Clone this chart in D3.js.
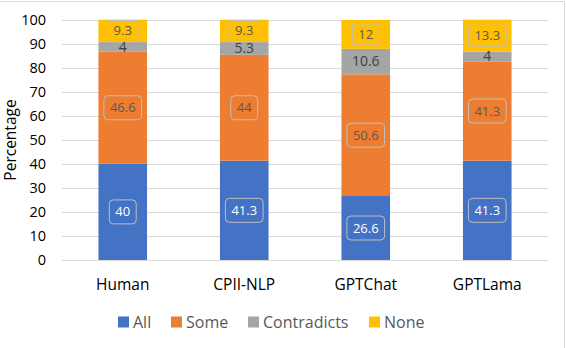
<!DOCTYPE html>
<html>
<head>
<meta charset="utf-8">
<script src="https://cdn.jsdelivr.net/npm/d3@7"></script>
<style>
  body { margin: 0; background: #fff; }
  svg { font-family: "Open Sans", "Liberation Sans", sans-serif; }
</style>
</head>
<body>
<svg id="chart" width="566" height="348"></svg>
<script>
let models = ["Human", "CPII-NLP", "GPTChat", "GPTLama"];
let seriesNames = ["All", "Some", "Contradicts", "None"];
let allValues = [40, 41.3, 26.6, 41.3];
let someValues = [46.6, 44, 50.6, 41.3];
let contradictsValues = [4, 5.3, 10.6, 4];
let noneValues = [9.3, 9.3, 12, 13.3];
let yTicks = [0, 10, 20, 30, 40, 50, 60, 70, 80, 90, 100];

let colors = ["#4472c4", "#ed7d31", "#a5a5a5", "#ffc000"];

// build rows for the stack
let rows = models.map((m, i) => ({
  model: m,
  All: allValues[i],
  Some: someValues[i],
  Contradicts: contradictsValues[i],
  None: noneValues[i]
}));

let svg = d3.select("#chart");

// frame
svg.append("path").
attr("d", "M0,1.5H564.5V348").
attr("fill", "none").
attr("stroke", "#d9d9d9");

let x = d3.scaleBand().
domain(models).
range([62, 548]).
paddingInner(0.6).
paddingOuter(0.3);

let y = d3.scaleLinear().
domain([0, 100]).
range([260, 19.5]);

let cScale = d3.scaleOrdinal().domain(seriesNames).range(colors);

// gridlines
svg.append("g").
selectAll("line").
data(yTicks).
enter().
append("line").
attr("x1", 62).
attr("x2", 548).
attr("y1", d => Math.round(y(d)) + 0.5).
attr("y2", d => Math.round(y(d)) + 0.5).
attr("stroke", "#d9d9d9").
attr("stroke-width", 1);

// y axis labels
let yAxis = d3.axisLeft(y).tickValues(yTicks).tickSize(0).tickPadding(0);
svg.append("g").
attr("transform", "translate(46,0)").
call(yAxis).
call(g => g.select(".domain").remove()).
call(g => g.selectAll("text").
  attr("font-size", 14.5).
  attr("font-family", "Open Sans, sans-serif").
  attr("fill", "#000"));

// y axis title
svg.append("text").
attr("transform", "translate(16,140) rotate(-90)").
attr("text-anchor", "middle").
attr("font-size", 15.5).
attr("fill", "#000").
text("Percentage");

// x axis labels
let xAxis = d3.axisBottom(x).tickSize(0).tickPadding(0);
svg.append("g").
attr("transform", "translate(0,279)").
call(xAxis).
call(g => g.select(".domain").remove()).
call(g => g.selectAll("text").
  attr("font-size", 15.5).
  attr("font-family", "Open Sans, sans-serif").
  attr("fill", "#000"));

// stacked bars
let stack = d3.stack().keys(seriesNames);
let layers = stack(rows);

let layer = svg.append("g").
selectAll("g").
data(layers).
enter().
append("g").
attr("fill", d => cScale(d.key));

layer.selectAll("rect").
data(d => d.map(v => Object.assign(v, { key: d.key }))).
enter().
append("rect").
attr("x", d => x(d.data.model)).
attr("width", x.bandwidth()).
attr("y", d => y(d[1])).
attr("height", d => y(d[0]) - y(d[1]));

// data labels
let labelStyle = {
  All: { fill: "#fff", box: true, rx: 4, h: 24 },
  Some: { fill: "#595959", box: true, rx: 4, h: 24 },
  Contradicts: { fill: "#404040", box: false },
  None: { fill: "#595959", box: true, rx: 1, h: 21 }
};

let labels = svg.append("g").
selectAll("g").
data(layers.flat()).
enter().
append("g").
attr("transform", d => `translate(${x(d.data.model) + x.bandwidth() / 2},${(y(d[0]) + y(d[1])) / 2})`);

labels.append("text").
attr("text-anchor", "middle").
attr("dy", "0.35em").
attr("font-size", d => d.key === "Contradicts" ? 14 : 13).
attr("fill", d => labelStyle[d.key].fill).
text(d => d.data[d.key]);

labels.each(function (d) {
  let s = labelStyle[d.key];
  if (!s.box) return;
  let g = d3.select(this);
  let w = g.select("text").node().getComputedTextLength() + 12;
  g.insert("rect", "text").
  attr("x", -w / 2).
  attr("y", -s.h / 2).
  attr("width", w).
  attr("height", s.h).
  attr("rx", s.rx).
  attr("fill", "none").
  attr("stroke", "#bfbfbf").
  attr("stroke-width", 1);
});

// legend
let legendX = [118, 171, 248, 369];
let legend = svg.append("g").
selectAll("g").
data(seriesNames).
enter().
append("g").
attr("transform", (d, i) => `translate(${legendX[i]},322)`);

legend.append("rect").
attr("x", 0).
attr("y", -5.5).
attr("width", 11).
attr("height", 11).
attr("fill", d => cScale(d));

legend.append("text").
attr("x", 15).
attr("dy", "0.35em").
attr("font-size", 16).
attr("fill", "#595959").
text(d => d);
</script>
</body>
</html>
